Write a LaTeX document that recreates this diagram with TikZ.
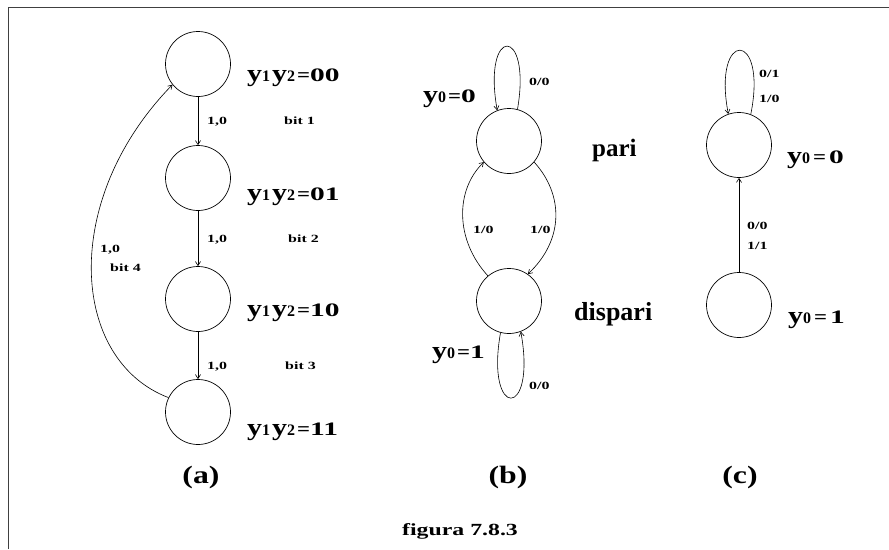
\documentclass[tikz,border=0pt]{standalone}
\usepackage{fontspec}
\setmainfont{Liberation Serif}
\usepackage{graphicx}
\usetikzlibrary{arrows.meta}

\newcommand{\yv}[1]{\scalebox{1.25}[1]{\fontsize{24}{24}\selectfont y}{\fontsize{16}{16}\selectfont #1}}
\newcommand{\eqv}{\scalebox{1.2}[1]{\fontsize{19}{19}\selectfont =}}
\newcommand{\dv}[1]{\scalebox{1.55}[1]{\fontsize{19}{19}\selectfont #1}}
\newcommand{\sm}[1]{\scalebox{1.45}[1]{\fontsize{11}{11}\selectfont #1}}

\begin{document}
\begin{tikzpicture}[x=1pt,y=-1pt,
  state/.style={draw,circle,minimum size=65pt,inner sep=0pt,line width=0.7pt},
  arr/.style={-{Straight Barb[length=4pt,width=5pt]},line width=0.6pt},
  lbl/.style={inner sep=0pt,anchor=base west,font=\bfseries}]
  \useasboundingbox (0,0) rectangle (889,549);
  \draw[black!75,line width=0.8pt] (8,549) -- (8,7) -- (889,7);

  % (a) contatore
  \node[state] (a1) at (198,64) {};
  \node[state] (a2) at (198,178) {};
  \node[state] (a3) at (198,299) {};
  \node[state] (a4) at (198,412) {};
  \draw[arr] (a1) -- (a2);
  \draw[arr] (a2) -- (a3);
  \draw[arr] (a3) -- (a4);
  \draw[arr] (a4.154) .. controls (70,360) and (60,200) .. (a1.219);
  \node[lbl] (la1) at (247,81) {\yv{1}\hspace{2pt}\yv{2}\hspace{2pt}\eqv\dv{00}};
  \node[lbl] (la2) at (247,200) {\yv{1}\hspace{2pt}\yv{2}\hspace{2pt}\eqv\dv{01}};
  \node[lbl] (la3) at (247,316) {\yv{1}\hspace{2pt}\yv{2}\hspace{2pt}\eqv\dv{10}};
  \node[lbl] (la4) at (247,435) {\yv{1}\hspace{2pt}\yv{2}\hspace{2pt}\eqv\dv{11}};
  \node[lbl] (e12) at (207,124) {\sm{1,0}};
  \node[lbl] (b1t) at (284,124) {\sm{bit 1}};
  \node[lbl] (e23) at (207,242) {\sm{1,0}};
  \node[lbl] (b2t) at (288,242) {\sm{bit 2}};
  \node[lbl] (e34) at (207,369) {\sm{1,0}};
  \node[lbl] (b3t) at (285,369) {\sm{bit 3}};
  \node[lbl] (e41) at (100,252) {\sm{1,0}};
  \node[lbl] (b4t) at (110,271) {\sm{bit 4}};
  \node[lbl,anchor=base] (capa) at (201,483) {\scalebox{1.27}[1]{\fontsize{25}{25}\selectfont (a)}};

  % (b) parita'
  \node[state] (b1) at (509,141) {};
  \node[state] (b2) at (509,301) {};
  \draw[arr] (b1.75) .. controls (532,25) and (482,25) .. (b1.111);
  \draw[arr] (b1.-40) .. controls (564,195) and (564,240) .. (b2.55);
  \draw[arr] (b2.130) .. controls (455,240) and (455,190) .. (b1.220);
  \draw[arr] (b2.255) .. controls (485,420) and (537,420) .. (b2.291);
  \node[lbl,anchor=base east] (lb1) at (476,102) {\yv{0}\hspace{2pt}\eqv\dv{0}};
  \node[lbl,anchor=base east] (lb2) at (485,358) {\yv{0}\hspace{2pt}\eqv\dv{1}};
  \node[lbl] (pari) at (592,156) {\fontsize{25}{25}\selectfont pari};
  \node[lbl] (dispari) at (574,320) {\fontsize{26}{26}\selectfont dispari};
  \node[lbl] (l11) at (529,85) {\sm{0/0}};
  \node[lbl] (l12) at (530,233) {\sm{1/0}};
  \node[lbl] (l21) at (473,233) {\sm{1/0}};
  \node[lbl] (l22) at (529,389) {\sm{0/0}};
  \node[lbl,anchor=base] (capb) at (508,483) {\scalebox{1.27}[1]{\fontsize{25}{25}\selectfont (b)}};

  % (c)
  \node[state] (c1) at (739,145) {};
  \node[state] (c2) at (739,305) {};
  \draw[arr] (c1.69) .. controls (768,29) and (712,29) .. (c1.109);
  \draw[arr] (c2) -- (c1);
  \node[lbl] (lc1) at (787,163) {\yv{0}\hspace{3pt}\eqv\hspace{3pt}\dv{0}};
  \node[lbl] (lc2) at (788,323) {\yv{0}\hspace{3pt}\eqv\hspace{3pt}\dv{1}};
  \node[lbl] (m11a) at (759,77) {\sm{0/1}};
  \node[lbl] (m11b) at (759,102) {\sm{1/0}};
  \node[lbl] (m21a) at (747,229) {\sm{0/0}};
  \node[lbl] (m21b) at (747,249) {\sm{1/1}};
  \node[lbl,anchor=base] (capc) at (740,483) {\scalebox{1.27}[1]{\fontsize{25}{25}\selectfont (c)}};

  \node[lbl,anchor=base] (fig) at (460,535) {\scalebox{1.4}[1]{\fontsize{17}{17}\selectfont figura 7.8.3}};
\end{tikzpicture}
\end{document}
